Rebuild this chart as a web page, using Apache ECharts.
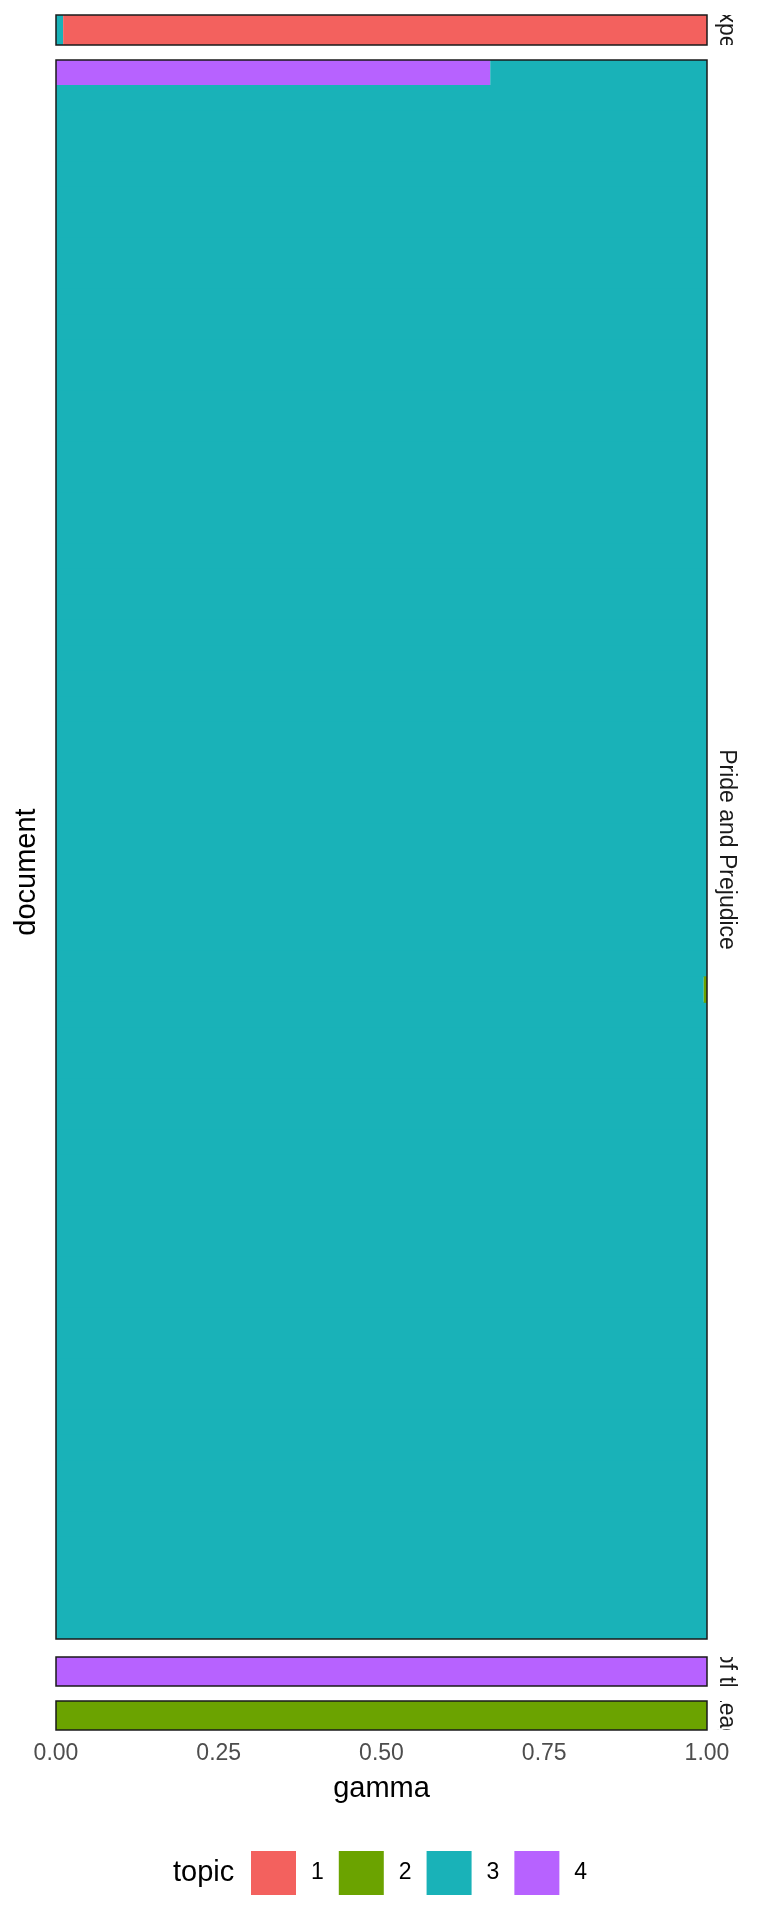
<!DOCTYPE html>
<html>
<head>
<meta charset="utf-8">
<script src="https://cdn.jsdelivr.net/npm/echarts@6/dist/echarts.min.js"></script>
<style>
html,body{margin:0;padding:0;background:#fff;}
#chart{width:768px;height:1920px;}
</style>
</head>
<body>
<div id="chart"></div>
<script>
// ---------------- DATA ----------------
const topics = ['1', '2', '3', '4'];
const topicColors = ['#F3615E', '#6BA300', '#19B2B8', '#B762FF'];
const books = ['Great Expectations', 'Pride and Prejudice', 'The War of the Worlds', 'Twenty Thousand Leagues under the Sea'];
const xTicks = [0, 0.25, 0.5, 0.75, 1];

// Great Expectations (1 document)
const geDocs = ['Great Expectations_1'];
const geTopic1 = [0.989];
const geTopic2 = [0];
const geTopic3 = [0.011];
const geTopic4 = [0];

// Pride and Prejudice (62 documents, top to bottom)
const ppDocs = ['1','2','3','4','5','6','7','8','9','10','11','12','13','14','15','16','17','18','19','20',
  '21','22','23','24','25','26','27','28','29','30','31','32','33','34','35','36','37','38','39','40',
  '41','42','43','44','45','46','47','48','49','50','51','52','53','54','55','56','57','58','59','60','61','62'];
const ppTopic1 = [0,0,0,0,0,0,0,0,0,0, 0,0,0,0,0,0,0,0,0,0, 0,0,0,0,0,0,0,0,0,0,
  0,0,0,0,0,0,0,0,0,0, 0,0,0,0,0,0,0,0,0,0, 0,0,0,0,0,0,0,0,0,0, 0,0];
const ppTopic2 = [0,0,0,0,0,0,0,0,0,0, 0,0,0,0,0,0,0,0,0,0, 0,0,0,0,0,0,0,0,0,0,
  0,0,0,0,0,0,0.005,0,0,0, 0,0,0,0,0,0,0,0,0,0, 0,0,0,0,0,0,0,0,0,0, 0,0];
const ppTopic3 = [0.333,1,1,1,1,1,1,1,1,1, 1,1,1,1,1,1,1,1,1,1, 1,1,1,1,1,1,1,1,1,1,
  1,1,1,1,1,1,0.995,1,1,1, 1,1,1,1,1,1,1,1,1,1, 1,1,1,1,1,1,1,1,1,1, 1,1];
const ppTopic4 = [0.667,0,0,0,0,0,0,0,0,0, 0,0,0,0,0,0,0,0,0,0, 0,0,0,0,0,0,0,0,0,0,
  0,0,0,0,0,0,0,0,0,0, 0,0,0,0,0,0,0,0,0,0, 0,0,0,0,0,0,0,0,0,0, 0,0];

// The War of the Worlds (1 document)
const wwDocs = ['The War of the Worlds_1'];
const wwTopic1 = [0];
const wwTopic2 = [0];
const wwTopic3 = [0];
const wwTopic4 = [1];

// Twenty Thousand Leagues under the Sea (1 document)
const tlDocs = ['Twenty Thousand Leagues under the Sea_1'];
const tlTopic1 = [0];
const tlTopic2 = [1];
const tlTopic3 = [0];
const tlTopic4 = [0];

// ---------------- LAYOUT ----------------
const panelLeft = 56, panelWidth = 651;
const panels = [
  {top: 15, height: 30},
  {top: 60, height: 1579},
  {top: 1657, height: 29},
  {top: 1701, height: 29}
];
const stripLeft = 711, stripWidth = 30;

const facetDocs = [geDocs, ppDocs, wwDocs, tlDocs];
const facetValues = [
  [geTopic1, geTopic2, geTopic3, geTopic4],
  [ppTopic1, ppTopic2, ppTopic3, ppTopic4],
  [wwTopic1, wwTopic2, wwTopic3, wwTopic4],
  [tlTopic1, tlTopic2, tlTopic3, tlTopic4]
];

const FONT = "'Liberation Sans', Arial, Helvetica, sans-serif";
const grid = [], xAxis = [], yAxis = [], series = [], graphic = [];
const stackOrder = [3, 2, 1, 0]; // topic 4 leftmost ... topic 1 rightmost
const nP = panels.length;

panels.forEach((p, g) => {
  grid.push({left: panelLeft, top: p.top, width: panelWidth, height: p.height, containLabel: false});
  const last = g === nP - 1;
  xAxis.push({
    type: 'value', gridIndex: g, min: 0, max: 1, interval: 0.25,
    axisLine: {show: false}, axisTick: {show: false}, splitLine: {show: false},
    axisLabel: {show: last, fontSize: 23, color: '#4D4D4D', fontFamily: FONT, margin: 12,
      showMinLabel: true, showMaxLabel: true,
      formatter: v => v.toFixed(2)},
    name: last ? 'gamma' : '', nameLocation: 'middle', nameGap: 44,
    nameTextStyle: {fontSize: 29, color: '#000', fontFamily: FONT}
  });
  yAxis.push({type: 'category', gridIndex: g, data: facetDocs[g], inverse: true, show: false});
  stackOrder.forEach(t => {
    series.push({
      type: 'bar', name: topics[t], xAxisIndex: g, yAxisIndex: g, stack: 'facet' + g,
      barWidth: '104%', clip: true,
      data: facetValues[g][t].map(v => (v === 0 ? null : v)),
      itemStyle: {color: topicColors[t]},
      emphasis: {disabled: true}
    });
  });
  graphic.push({
    type: 'rect', z: 100, silent: true,
    shape: {x: panelLeft, y: p.top, width: panelWidth, height: p.height},
    style: {fill: 'none', stroke: '#1a1a1a', lineWidth: 1.5}
  });
});

// strip label grids (clipped text, like ggplot strips)
panels.forEach((p, i) => {
  const gi = nP + i;
  grid.push({left: stripLeft, top: p.top, width: stripWidth, height: p.height});
  xAxis.push({type: 'value', gridIndex: gi, min: 0, max: 1, show: false});
  yAxis.push({type: 'value', gridIndex: gi, min: 0, max: 1, show: false});
  series.push({
    type: 'custom', xAxisIndex: gi, yAxisIndex: gi, clip: true, silent: true,
    data: [[0.5, 0.5, books[i]]],
    renderItem: function (params, api) {
      const cs = params.coordSys;
      return {
        type: 'text',
        x: cs.x + cs.width / 2, y: cs.y + cs.height / 2,
        rotation: -Math.PI / 2,
        style: {text: books[i], align: 'center', verticalAlign: 'middle',
          fontSize: 23, fill: '#1a1a1a', fontFamily: FONT}
      };
    }
  });
});

graphic.push({
  type: 'text', x: 27, y: 872, rotation: Math.PI / 2, silent: true,
  style: {text: 'document', align: 'center', verticalAlign: 'middle', fontSize: 29, fill: '#000', fontFamily: FONT}
});
graphic.push({
  type: 'text', x: 173, y: 1873, silent: true,
  style: {text: 'topic', align: 'left', verticalAlign: 'middle', fontSize: 29, fill: '#000', fontFamily: FONT}
});

const chart = echarts.init(document.getElementById('chart'), null, {renderer: 'canvas'});
chart.setOption({
  animation: false,
  backgroundColor: '#fff',
  grid, xAxis, yAxis, series, graphic,
  legend: {
    data: topics, left: 251, top: 1851, orient: 'horizontal', padding: 0,
    itemWidth: 45, itemHeight: 44, itemGap: 15, icon: 'rect',
    selectedMode: false,
    textStyle: {fontSize: 23, color: '#000', fontFamily: FONT, padding: [0, 0, 0, 10]}
  }
});
</script>
</body>
</html>
